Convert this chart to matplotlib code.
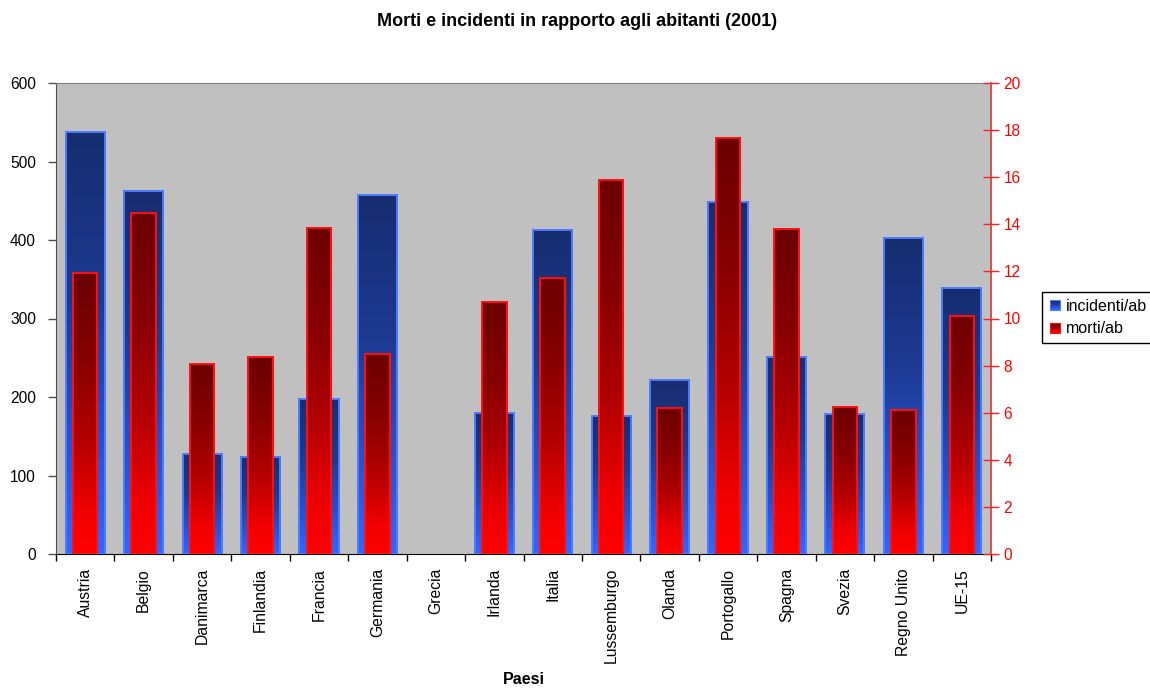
import numpy as np
import matplotlib
matplotlib.use("Agg")
import matplotlib.pyplot as plt
from matplotlib.colors import LinearSegmentedColormap
from matplotlib.legend_handler import HandlerBase
from matplotlib.patches import Rectangle, Patch

plt.rcParams["font.family"] = ["Liberation Sans", "DejaVu Sans"]

paesi = ["Austria", "Belgio", "Danimarca", "Finlandia", "Francia", "Germania",
         "Grecia", "Irlanda", "Italia", "Lussemburgo", "Olanda", "Portogallo",
         "Spagna", "Svezia", "Regno Unito", "UE-15"]
incidenti_ab = [537, 463, 128, 124, 198, 457, np.nan, 180, 413, 176, 222, 449,
                251, 178, 403, 339]
morti_ab = [11.95, 14.5, 8.08, 8.38, 13.85, 8.5, np.nan, 10.7, 11.73, 15.89,
            6.21, 17.65, 13.79, 6.24, 6.11, 10.12]

# dark at the top of each bar, bright at the base
blue_cmap = LinearSegmentedColormap.from_list(
    "blu", [(0, "#172d70"), (0.4, "#1d3a92"), (0.75, "#2a52d0"), (1, "#3366ff")])
red_cmap = LinearSegmentedColormap.from_list(
    "rosso", [(0, "#6c0000"), (0.3, "#860000"), (0.6, "#b40000"), (0.85, "#f00000"), (1, "#ff0000")])


def gradient_bars(ax, x, values, width, cmap, edge):
    vals = np.asarray(values, dtype=float)
    ok = ~np.isnan(vals)
    bars = ax.bar(x[ok], vals[ok], width=width, facecolor="none",
                  edgecolor=edge, linewidth=1.4, zorder=3)
    grad = np.linspace(1, 0, 256).reshape(-1, 1)
    for b in bars:
        x0, w, h = b.get_x(), b.get_width(), b.get_height()
        im = ax.imshow(grad, extent=[x0, x0 + w, 0, h], origin="lower",
                       aspect="auto", cmap=cmap, vmin=0, vmax=1, zorder=2)
        im.set_clip_path(b)
    return bars


class HandlerGradient(HandlerBase):
    def __init__(self, cmap, edge):
        super().__init__()
        self.cmap, self.edge = cmap, edge

    def create_artists(self, legend, orig_handle, xdescent, ydescent,
                       width, height, fontsize, trans):
        side = height * 0.9
        x0 = -xdescent + (width - side) / 2
        y0 = -ydescent + (height - side) / 2
        n = 10
        arts = []
        for i in range(n):
            c = self.cmap(1 - i / (n - 1))
            arts.append(Rectangle((x0, y0 + i * side / n), side, side / n + 0.2,
                                  facecolor=c, edgecolor="none", transform=trans))
        arts.append(Rectangle((x0, y0), side, side, facecolor="none",
                              edgecolor=self.edge, linewidth=0.8, transform=trans))
        return arts


fig = plt.figure(figsize=(11.5, 6.88), dpi=100)
ax = fig.add_axes([56 / 1150, 1 - 554 / 688, 935 / 1150, 471 / 688])
ax2 = ax.twinx()

x = np.arange(len(paesi))
gradient_bars(ax, x, incidenti_ab, 0.67, blue_cmap, "#4d7bff")
gradient_bars(ax2, x, morti_ab, 0.42, red_cmap, "#ff1010")

ax.set_facecolor("#c0c0c0")
ax.set_xlim(-0.5, len(paesi) - 0.5)
ax.set_ylim(0, 600)
ax2.set_ylim(0, 20)
ax.set_yticks(np.arange(0, 601, 100))
ax2.set_yticks(np.arange(0, 21, 2))

# category boundaries get the tick marks, centres get the names
ax.set_xticks(np.arange(-0.5, len(paesi)), labels=[])
ax.set_xticks(x, labels=paesi, minor=True, rotation=90)
ax.tick_params(axis="x", which="major", length=5, width=1, color="black")
ax.tick_params(axis="x", which="minor", length=0, pad=10, labelsize=11.3)
ax.tick_params(axis="y", length=6, width=1, color="#505050", pad=8.5, labelsize=11.2)
ax2.tick_params(axis="y", direction="inout", length=12, width=1, color="#ff2020",
                labelcolor="#ff0000", pad=3, labelsize=11.2)

for s in ("top", "left", "bottom"):
    ax2.spines[s].set_visible(False)
ax.spines["right"].set_visible(False)
ax.spines["top"].set_color("#808080")
ax.spines["left"].set_color("#505050")
ax.spines["bottom"].set_color("black")
ax2.spines["right"].set_color("#e03030")
ax2.spines["right"].set_linewidth(1.2)

fig.text(0.502, 1 - 22 / 688, "Morti e incidenti in rapporto agli abitanti (2001)",
         ha="center", va="center", fontsize=13, fontweight="bold")
fig.text(524 / 1150, 1 - 680 / 688, "Paesi", ha="center", va="center",
         fontsize=11.5, fontweight="bold")

h_blue, h_red = Patch(), Patch()
fig.legend([h_blue, h_red], ["incidenti/ab", "morti/ab"],
           loc="center left", bbox_to_anchor=(1042 / 1150, 1 - 317.5 / 688),
           fontsize=11.5, frameon=True, fancybox=False, edgecolor="black",
           framealpha=1, borderaxespad=0, borderpad=0.4, handlelength=0.8,
           handletextpad=0.3, labelspacing=0.5,
           handler_map={h_blue: HandlerGradient(blue_cmap, "#4d7bff"),
                        h_red: HandlerGradient(red_cmap, "#ff1010")})

fig.savefig("out.png", dpi=100)
